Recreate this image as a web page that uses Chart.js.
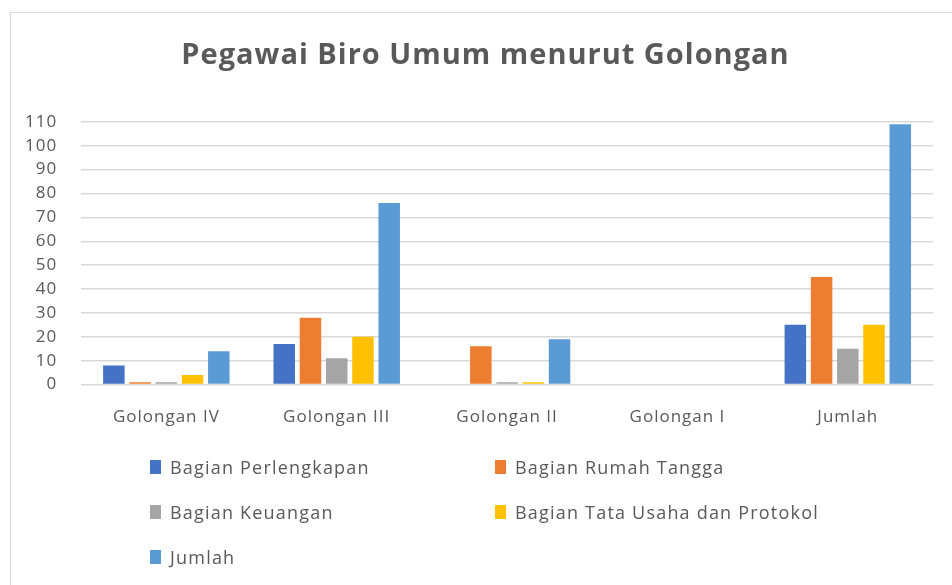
<!DOCTYPE html>
<html>
<head>
<meta charset="utf-8">
<script src="https://cdn.jsdelivr.net/npm/chart.js@4.4.1/dist/chart.umd.min.js"></script>
<style>
  body { margin: 0; background: #fff; }
  #wrap { position: relative; width: 952px; height: 585px; overflow: hidden; }
  #frame { position: absolute; left: 10px; top: 12px; width: 960px; height: 600px; border: 1.5px solid #d9d9d9; box-sizing: border-box; }
  #legend { position: absolute; left: 150px; top: 455px; display: grid; grid-template-columns: 345px 400px; row-gap: 21px; font-family: "Open Sans", sans-serif; font-size: 18px; color: #595959; letter-spacing: 1.2px; }
  .item { display: flex; align-items: center; height: 24px; }
  .box { width: 11px; height: 14px; margin-right: 9px; }
</style>
</head>
<body>
<div id="wrap">
  <div id="frame"></div>
  <canvas id="golonganChart" width="952" height="585"></canvas>
  <div id="legend"></div>
</div>
<script>
const categories = ["Golongan IV", "Golongan III", "Golongan II", "Golongan I", "Jumlah"];
const seriesNames = ["Bagian Perlengkapan", "Bagian Rumah Tangga", "Bagian Keuangan", "Bagian Tata Usaha  dan Protokol", "Jumlah"];
const perlengkapan = [8, 17, 0, 0, 25];
const rumahTangga = [1, 28, 16, 0, 45];
const keuangan = [1, 11, 1, 0, 15];
const tataUsaha = [4, 20, 1, 0, 25];
const jumlah = [14, 76, 19, 0, 109];
const seriesColors = ['#4472C4', '#ED7D31', '#A5A5A5', '#FFC000', '#5B9BD5'];

const allSeries = [perlengkapan, rumahTangga, keuangan, tataUsaha, jumlah];

Chart.defaults.color = '#595959';
Chart.defaults.font.family = '"Open Sans", sans-serif';

const canvas = document.getElementById("golonganChart");

// wider letters, like the original picture
const spacingPlugin = {
  id: 'spacing',
  beforeDraw: (chart) => { chart.ctx.letterSpacing = '1px'; },
  // title sits a bit right of the canvas centre in the original
  afterLayout: (chart) => {
    if (chart.titleBlock) {
      chart.titleBlock.left += 34;
    }
  },
};

const golonganChart = new Chart(canvas, {
  type: "bar",
  data: {
    labels: categories,
    datasets: allSeries.map((values, i) => ({
      label: seriesNames[i],
      data: values,
      backgroundColor: seriesColors[i],
      borderWidth: 0,
      categoryPercentage: 0.77,
      barPercentage: 0.82,
    })),
  },
  options: {
    responsive: false,
    animation: false,
    layout: {
      padding: { left: 4, right: 19, top: 0, bottom: 136 },
    },
    plugins: {
      legend: { display: false },
      tooltip: { enabled: false },
      title: {
        display: true,
        text: "Pegawai Biro Umum menurut Golongan",
        color: '#595959',
        font: { size: 29, weight: 'bold' },
        padding: { top: 38, bottom: 49 },
      },
    },
    scales: {
      x: {
        grid: { display: false, drawTicks: false },
        border: { display: false },
        ticks: { padding: 22, font: { size: 17 } },
      },
      y: {
        min: 0,
        max: 110,
        ticks: { stepSize: 10, autoSkip: false, padding: 24, font: { size: 17 } },
        grid: { color: '#d9d9d9', lineWidth: 1.5, drawTicks: false },
        border: { display: false },
      },
    },
  },
  plugins: [spacingPlugin],
});

// HTML legend in two columns like the original
const legendBox = document.getElementById("legend");
golonganChart.data.datasets.forEach((ds) => {
  const item = document.createElement("div");
  item.className = "item";
  const box = document.createElement("span");
  box.className = "box";
  box.style.background = ds.backgroundColor;
  const text = document.createElement("span");
  text.textContent = ds.label;
  item.appendChild(box);
  item.appendChild(text);
  legendBox.appendChild(item);
});
</script>
</body>
</html>
